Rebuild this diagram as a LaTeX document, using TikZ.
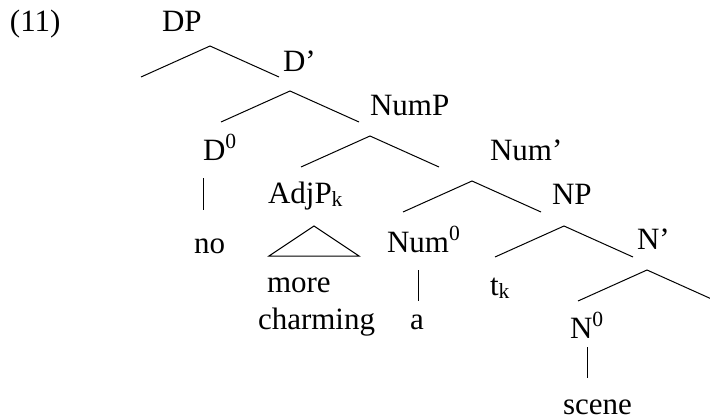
\documentclass[tikz,border=0pt]{standalone}
\usepackage{fontspec}
\setmainfont{Liberation Serif}

\tikzset{
	lbl/.style={anchor=base west,inner sep=0,outer sep=0,font=\fontsize{15.5}{18}\selectfont},
	branch/.style={line width=0.5pt},
}
% bar level and trace index
\newcommand{\sups}[1]{\raisebox{5.6pt}{\fontsize{10.8}{12}\selectfont #1}}
\newcommand{\subs}[1]{\raisebox{-1.5pt}{\fontsize{10.8}{12}\selectfont #1}}
% a binary branch hanging from its apex (#1) at (#2,#3)
\newcommand{\branch}[3]{%
	\coordinate (#1) at (#2,#3);
	\coordinate (#1-l) at (#2-69,#3+31);
	\coordinate (#1-r) at (#2+69,#3+31);
	\draw[branch] (#1-l) -- (#1) -- (#1-r);}

\begin{document}
\begin{tikzpicture}[x=0.5pt,y=-0.5pt]
	\useasboundingbox (0,0) rectangle (710,417);
	\node[lbl] (ex) at (10,32) {(11)};
	\node[lbl] (dp) at (162,32) {DP};
	\node[lbl] (dbar) at (283,71) {D'};
	\node[lbl] (d0) at (203,160) {D\sups{0}};
	\node[lbl] (no) at (194,253) {no};
	\node[lbl] (nump) at (370,115) {NumP};
	\node[lbl] (adjp) at (268,203) {AdjP\subs{k}};
	\node[lbl] (more) at (267,292) {more};
	\node[lbl] (charming) at (258,329) {charming};
	\node[lbl] (numbar) at (490,160) {Num'};
	\node[lbl] (num0) at (387,252) {Num\sups{0}};
	\node[lbl] (a) at (410,329) {a};
	\node[lbl] (np) at (552,204) {NP};
	\node[lbl] (tk) at (490,295) {t\subs{k}};
	\node[lbl] (nbar) at (637,249) {N'};
	\node[lbl] (n0) at (570,338) {N\sups{0}};
	\node[lbl] (scene) at (563,414) {scene};

	\branch{dp-top}{210}{46}
	\branch{dbar-top}{290}{91}
	\branch{nump-top}{370}{136}
	\branch{numbar-top}{472}{181}
	\branch{np-top}{564}{226}
	\branch{nbar-top}{647}{270}

	% unary links
	\coordinate (d0-a) at (203,178);
	\coordinate (d0-b) at (203,210);
	\draw[branch] (d0-a) -- (d0-b);
	\coordinate (num0-a) at (418,270);
	\coordinate (num0-b) at (418,301);
	\draw[branch] (num0-a) -- (num0-b);
	\coordinate (n0-a) at (587,347);
	\coordinate (n0-b) at (587,378);
	\draw[branch] (n0-a) -- (n0-b);

	% roof over AdjP
	\coordinate (roof-top) at (314,226);
	\coordinate (roof-l) at (269,256);
	\coordinate (roof-r) at (359,256);
	\draw[branch] (roof-top) -- (roof-r) -- (roof-l) -- cycle;
\end{tikzpicture}
\end{document}
